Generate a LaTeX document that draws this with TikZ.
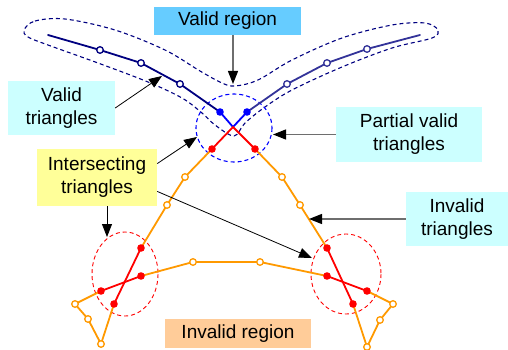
\documentclass[tikz,border=0pt]{standalone}
\usepackage{fontspec}
\setmainfont{Liberation Sans}
\usetikzlibrary{arrows.meta}
\definecolor{navyA}{RGB}{0,0,128}
\definecolor{slateB}{RGB}{51,51,153}
\definecolor{brightB}{RGB}{0,0,255}
\definecolor{orangeC}{RGB}{255,153,0}
\definecolor{redC}{RGB}{255,0,0}
\definecolor{skyBox}{RGB}{102,204,255}
\definecolor{cyanBox}{RGB}{204,255,255}
\definecolor{yellowBox}{RGB}{255,255,153}
\definecolor{peachBox}{RGB}{255,204,153}
\definecolor{grayLine}{RGB}{110,110,110}
\tikzset{
  lbl/.style={inner sep=0pt, align=center, font=\fontsize{19}{23}\selectfont},
  pline/.style={line width=1.8pt, line join=round, line cap=round},
  dashline/.style={line width=1.1pt, dash pattern=on 4pt off 3pt},
  grayarrow/.style={draw=grayLine, line width=1.3pt, -{Triangle[length=13pt,width=10pt,color=black]}},
  blackarrow/.style={draw=black, line width=0.8pt, -{Triangle[length=13pt,width=10pt,color=black]}},
  odot/.style={line width=1.3pt, draw=#1, fill=white},
}
\begin{document}
\begin{tikzpicture}[x=1pt,y=-1pt]
\useasboundingbox (0,0) rectangle (508,350);
% vertices
\coordinate (L0) at (48,35);
\coordinate (L1) at (100,50);
\coordinate (L2) at (141,63);
\coordinate (L3) at (180,84);
\coordinate (L4) at (220,112);
\coordinate (C) at (233,127);
\coordinate (R4) at (247,112);
\coordinate (R3) at (287,84);
\coordinate (R2) at (327,63);
\coordinate (R1) at (367,49);
\coordinate (R0) at (420,35);
\coordinate (A1) at (212,149);
\coordinate (A2) at (255,149);
\coordinate (B1) at (282,177);
\coordinate (B2) at (300,205);
\coordinate (Q1) at (327,248);
\coordinate (Q2) at (353,304);
\coordinate (B3) at (367,347);
\coordinate (B4) at (380,320);
\coordinate (B5) at (393,304);
\coordinate (Q3) at (367,291);
\coordinate (Q4) at (327,276);
\coordinate (B6) at (260,262);
\coordinate (B7) at (193,262);
\coordinate (S1) at (141,276);
\coordinate (S2) at (101,291);
\coordinate (B8) at (75,304);
\coordinate (B9) at (88,319);
\coordinate (B10) at (101,344);
\coordinate (S3) at (114,304);
\coordinate (S4) at (141,248);
\coordinate (B11) at (167,205);
\coordinate (B12) at (185,177);

% regions
\draw[navyA, dashline] plot[smooth cycle, tension=0.55] coordinates {
 (24,30) (35,21) (65,19) (115,30) (165,50) (200,71) (222,83) (235,86)
 (258,80) (292,60) (342,38) (392,25) (425,23) (438,30) (432,38) (392,48)
 (342,67) (292,90) (265,107) (245,123) (234,136) (215,125) (202,113)
 (182,98) (148,82) (98,63) (48,45) (28,37)};
\draw[brightB, dashline] (234,128) ellipse [x radius=38, y radius=34];
\draw[redC, dashline, line width=0.9pt] (125,274) ellipse [x radius=33, y radius=42];
\draw[redC, dashline, line width=0.9pt] (346,274) ellipse [x radius=35, y radius=40];

% polylines
\draw[pline, navyA] (L0) -- (L1) -- (L2) -- (L3) -- (L4);
\draw[pline, slateB] (R4) -- (R3) -- (R2) -- (R1) -- (R0);
\draw[pline, brightB] (L4) -- (C) -- (R4);
\draw[pline, orangeC] (A2) -- (B1) -- (B2) -- (Q1);
\draw[pline, orangeC] (Q2) -- (B3) -- (B4) -- (B5) -- (Q3);
\draw[pline, orangeC] (Q4) -- (B6) -- (B7) -- (S1);
\draw[pline, orangeC] (S2) -- (B8) -- (B9) -- (B10) -- (S3);
\draw[pline, orangeC] (S4) -- (B11) -- (B12) -- (A1);
\draw[pline, redC] (A1) -- (C) -- (A2);
\draw[pline, redC] (Q1) -- (Q2);
\draw[pline, redC] (Q3) -- (Q4);
\draw[pline, redC] (S1) -- (S2);
\draw[pline, redC] (S3) -- (S4);

% dots
\foreach \p in {L1,L2,L3} \draw[odot=navyA] (\p) circle (3.3);
\foreach \p in {R3,R2,R1} \draw[odot=slateB] (\p) circle (3.3);
\foreach \p in {B1,B2,B3,B4,B5,B6,B7,B8,B9,B10,B11,B12} \draw[odot=orangeC] (\p) circle (3.3);
\foreach \p in {L4,R4} \fill[brightB] (\p) circle (3.8);
\foreach \p in {A1,A2,Q1,Q2,Q3,Q4,S1,S2,S3,S4} \fill[redC] (\p) circle (3.8);

% labels
\node[lbl, fill=skyBox, minimum width=147pt, minimum height=28pt] (validregion) at (227.5,21) {Valid region};
\node[lbl, fill=cyanBox, minimum width=107pt, minimum height=54pt] (validtri) at (61.5,108) {Valid\\triangles};
\node[lbl, fill=cyanBox, minimum width=146pt, minimum height=55pt] (partial) at (409,134.5) {Partial valid\\triangles};
\node[lbl, fill=yellowBox, minimum width=120pt, minimum height=57pt] (intersect) at (97,177.5) {Intersecting\\triangles};
\node[lbl, fill=cyanBox, minimum width=102pt, minimum height=54pt] (invalidtri) at (457,219) {Invalid\\triangles};
\node[lbl, fill=peachBox, minimum width=146pt, minimum height=29pt] (invalidregion) at (238,333.5) {Invalid region};

% arrow tips
\coordinate (tVR) at (233,84);
\coordinate (tVT) at (162,76);
\coordinate (tPV) at (273,135);
\coordinate (tI1) at (197,137);
\coordinate (tI2) at (107,237);
\coordinate (tI3) at (312,258);
\coordinate (tIT) at (309,219);

\draw[grayarrow] (validregion.south -| tVR) -- (tVR);
\draw[blackarrow] (validtri.east) -- (tVT);
\draw[grayarrow] (partial.west) -- (partial.west -| tPV);
\draw[blackarrow] (intersect.13.6) -- (tI1);
\draw[blackarrow] (intersect.south -| tI2) -- (tI2);
\draw[blackarrow] (intersect.-13.6) -- (tI3);
\draw[grayarrow] (invalidtri.west) -- (invalidtri.west -| tIT);
\end{tikzpicture}
\end{document}
